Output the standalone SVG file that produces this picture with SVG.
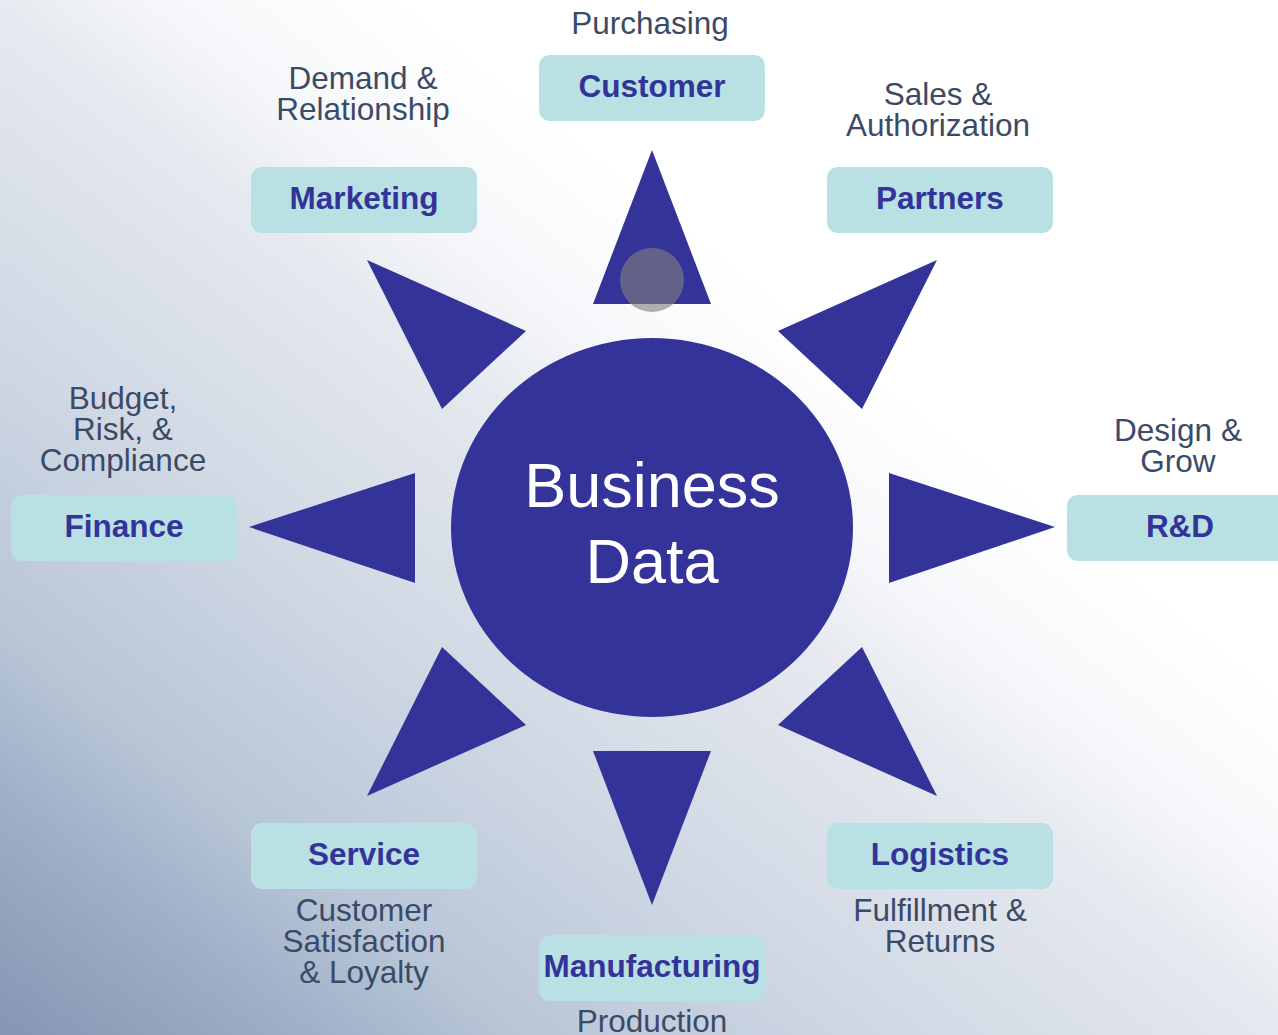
<svg xmlns="http://www.w3.org/2000/svg" width="1278" height="1035" viewBox="0 0 1278 1035">
<defs>
<linearGradient id="bg" x1="0" y1="1035" x2="658" y2="201" gradientUnits="userSpaceOnUse">
<stop offset="0" stop-color="#8496b2"/>
<stop offset="0.184" stop-color="#9fb0c8"/>
<stop offset="0.299" stop-color="#b8c5d6"/>
<stop offset="0.375" stop-color="#c0ccdc"/>
<stop offset="0.556" stop-color="#d4dbe6"/>
<stop offset="0.755" stop-color="#e5e9ef"/>
<stop offset="0.859" stop-color="#f6f7fa"/>
<stop offset="1" stop-color="#ffffff"/>
</linearGradient>
<style>
.ray{fill:#343399}
.box{fill:#b9e0e3}
.bt{font-family:"Liberation Sans",Arial,sans-serif;font-weight:bold;font-size:31.5px;fill:#333399;text-anchor:middle}
.lt{font-family:"Liberation Sans",Arial,sans-serif;font-size:31.5px;fill:#3b4a66;text-anchor:middle}
.ct{font-family:"Liberation Sans",Arial,sans-serif;font-size:63px;fill:#ffffff;text-anchor:middle}
</style>
</defs>
<rect width="1278" height="1035" fill="url(#bg)"/>
<g id="connectors">
<polygon class="ray" points="652,150 711,304 593,304"/>
<polygon class="ray" points="652,905 711,751 593,751"/>
<polygon class="ray" points="249,527 415,473 415,583"/>
<polygon class="ray" points="1055,527 889,473 889,583"/>
<polygon class="ray" points="367,260 526,331 442,409"/>
<polygon class="ray" points="937,260 778,331 862,409"/>
<polygon class="ray" points="367,796 442,647 526,725"/>
<polygon class="ray" points="937,796 862,647 778,725"/>
<circle cx="652" cy="280" r="32" fill="#808080" fill-opacity="0.62"/>
</g>
<g id="center">
<ellipse cx="652" cy="527.5" rx="201" ry="189.5" fill="#343399"/>
<text class="ct" x="652" y="507">Business</text>
<text class="ct" x="652" y="583">Data</text>
</g>
<g id="customer">
<rect class="box" x="539" y="55" width="226" height="66" rx="11"/>
<text class="bt" x="652" y="97">Customer</text>
<text class="lt" x="650" y="34">Purchasing</text>
</g>
<g id="marketing">
<rect class="box" x="251" y="167" width="226" height="66" rx="11"/>
<text class="bt" x="364" y="209">Marketing</text>
<text class="lt" x="363" y="89">Demand &amp;</text>
<text class="lt" x="363" y="120">Relationship</text>
</g>
<g id="partners">
<rect class="box" x="827" y="167" width="226" height="66" rx="11"/>
<text class="bt" x="940" y="209">Partners</text>
<text class="lt" x="938" y="105">Sales &amp;</text>
<text class="lt" x="938" y="136">Authorization</text>
</g>
<g id="finance">
<rect class="box" x="11" y="495" width="226" height="66" rx="11"/>
<text class="bt" x="124" y="537">Finance</text>
<text class="lt" x="123" y="409">Budget,</text>
<text class="lt" x="123" y="440">Risk, &amp;</text>
<text class="lt" x="123" y="471">Compliance</text>
</g>
<g id="rnd">
<rect class="box" x="1067" y="495" width="226" height="66" rx="11"/>
<text class="bt" x="1180" y="537">R&amp;D</text>
<text class="lt" x="1178" y="441">Design &amp;</text>
<text class="lt" x="1178" y="472">Grow</text>
</g>
<g id="service">
<rect class="box" x="251" y="823" width="226" height="66" rx="11"/>
<text class="bt" x="364" y="865">Service</text>
<text class="lt" x="364" y="921">Customer</text>
<text class="lt" x="364" y="952">Satisfaction</text>
<text class="lt" x="364" y="983">&amp; Loyalty</text>
</g>
<g id="logistics">
<rect class="box" x="827" y="823" width="226" height="66" rx="11"/>
<text class="bt" x="940" y="865">Logistics</text>
<text class="lt" x="940" y="921">Fulfillment &amp;</text>
<text class="lt" x="940" y="952">Returns</text>
</g>
<g id="manufacturing">
<rect class="box" x="539" y="935" width="226" height="66" rx="11"/>
<text class="bt" x="652" y="977">Manufacturing</text>
<text class="lt" x="652" y="1032">Production</text>
</g>
</svg>
